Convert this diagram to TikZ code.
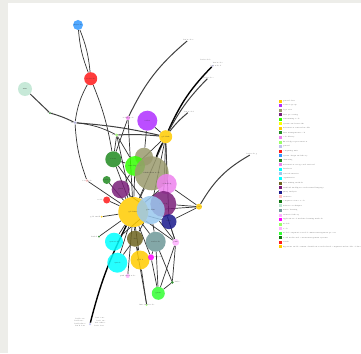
\documentclass[tikz,border=0pt]{standalone}
\usepackage{tikz}
\usetikzlibrary{backgrounds}
\pgfdeclarelayer{edges}
\pgfsetlayers{background,edges,main}

\definecolor{goldc}{HTML}{FFCC00}
\definecolor{violetc}{HTML}{B030FF}
\definecolor{khakic}{HTML}{9A9A6E}
\definecolor{plumc}{HTML}{7A1F7A}
\definecolor{limec}{HTML}{33FF00}
\definecolor{yelc}{HTML}{FFFF00}
\definecolor{forestc}{HTML}{228B22}
\definecolor{orchidc}{HTML}{EE82EE}
\definecolor{lightlimec}{HTML}{99FF66}
\definecolor{lavc}{HTML}{C0C0EE}
\definecolor{redc}{HTML}{FF1A1A}
\definecolor{skyc}{HTML}{3399FF}
\definecolor{cyanc}{HTML}{00FFFF}
\definecolor{paleblue}{HTML}{99C8EE}
\definecolor{olivec}{HTML}{6E6420}
\definecolor{navyc}{HTML}{1A1A8C}
\definecolor{rosec}{HTML}{FFC0C0}
\definecolor{darkgc}{HTML}{117711}
\definecolor{mintc}{HTML}{BEE6D2}
\definecolor{tealc}{HTML}{6E9898}
\definecolor{pinkc}{HTML}{FFB0FF}
\definecolor{magc}{HTML}{FF00FF}
\definecolor{greenc}{HTML}{33FF33}
\definecolor{pagec}{HTML}{EDEDE9}

\begin{document}
\begin{tikzpicture}[x=1pt,y=-1pt,
  vtx/.style={circle,inner sep=0pt,fill opacity=0.85,text opacity=1},
  lnk/.style={black!80,line width=0.7pt},
  heavy/.style={black,line width=1.4pt},
  pale/.style={gray!50!black,line width=1pt},
  tag/.style={font=\fontsize{1.6}{2}\selectfont,text=gray!60!black,inner sep=0.2pt},
  inner/.style={font=\fontsize{1.6}{2}\selectfont,text=black!85,inner sep=0.2pt},
  keymark/.style={minimum size=3pt,inner sep=0pt}]

% page
\begin{scope}[on background layer]
\fill[pagec] (0,0) rectangle (361,353);
\fill[white] (8,3) rectangle (361,353);
\end{scope}

% outer vertices
\node[vtx,fill=skyc,minimum size=10pt,label={[inner]center:sky node}] (vblue) at (78,25) {};
\node[vtx,fill=redc,minimum size=13pt,label={[inner]center:red node}] (vred) at (90.7,78.7) {};
\node[vtx,fill=mintc,minimum size=14pt,label={[inner]center:mint}] (vmint) at (25,89) {};
\node[vtx,fill=darkgc,minimum size=2pt,label={[tag]center:leaf a}] (vdot) at (50,113) {};
\node[vtx,fill=lavc,minimum size=3pt,label={[tag]center:lav node}] (vlav) at (75,122.7) {};
\node[vtx,fill=lightlimec,minimum size=3pt,label={[tag]center:lime node}] (vlime) at (116.7,135) {};
\node[vtx,fill=orchidc,minimum size=4pt,label={[tag]center:orchid node}] (vorchid) at (128,118) {};
\node[vtx,fill=violetc,minimum size=20pt,label={[inner]center:violet}] (vviolet) at (147.3,120.7) {};
\node[vtx,fill=goldc,minimum size=13pt,label={[inner]center:gold hub}] (vgold) at (165.7,136.7) {};

% central cluster
\node[vtx,fill=forestc,minimum size=16pt,label={[inner]center:forest}] (vforest) at (113.3,159.3) {};
\node[vtx,fill=khakic,minimum size=18pt] (vkhakis) at (144,156.7) {};
\node[vtx,fill=limec,minimum size=20pt,label={[inner]center:lime big node}] (vlimebig) at (135,166) {};
\node[vtx,fill=khakic,minimum size=34pt,label={[inner]center:khaki main node}] (vkhaki) at (151.7,173.3) {};
\node[vtx,fill=orchidc,minimum size=20pt,label={[inner]center:orchid big}] (vorch) at (166.7,184) {};
\node[vtx,fill=forestc,minimum size=8pt,label={[inner]center:forest b}] (vfsm) at (106.7,180) {};
\node[vtx,fill=redc,minimum size=7pt,label={[tag]left:red b}] (vredsm) at (106.7,200) {};
\node[vtx,fill=plumc,minimum size=18pt,label={[inner]center:plum}] (vplum) at (120.7,189.3) {};
\node[vtx,fill=plumc,minimum size=26pt,label={[inner]center:plum big}] (vplumr) at (163.3,204) {};
\node[vtx,fill=goldc,minimum size=30pt,label={[inner]center:gold main}] (vyellow) at (133.3,212) {};
\node[vtx,fill=paleblue,minimum size=28pt,label={[inner]center:pale blue}] (vpale) at (150.7,210) {};
\node[vtx,fill=navyc,minimum size=15pt,label={[inner]center:navy}] (vnavy) at (169,221.7) {};
\node[vtx,fill=goldc,minimum size=6pt,label={[tag]center:gold r}] (vgoldr) at (199,206.7) {};
\node[vtx,fill=rosec,minimum size=3pt,label={[tag]center:rose node}] (vrose) at (87,180.7) {};
\node[vtx,fill=goldc,minimum size=2pt,label={[tag]left:gold small}] (vgoldsm) at (101.7,216.7) {};
\node[vtx,fill=darkgc,minimum size=2pt,label={[tag]left:dark b}] (vdark) at (99,236.5) {};
\node[vtx,fill=cyanc,minimum size=18pt,label={[inner]center:cyan node}] (vcyan) at (114,241.7) {};
\node[vtx,fill=olivec,minimum size=16pt,label={[inner]center:olive}] (volive) at (135,238.7) {};
\node[vtx,fill=tealc,minimum size=20pt,label={[inner]center:teal node}] (vteal) at (155.7,241.7) {};
\node[vtx,fill=pinkc,minimum size=7pt,label={[inner]center:pink}] (vpink) at (175.7,242.3) {};
\node[vtx,fill=cyanc,minimum size=20pt,label={[inner]center:cyan b}] (vcyanb) at (117.3,262.7) {};
\node[vtx,fill=goldc,minimum size=19pt,label={[inner]center:gold b}] (vgoldb) at (140,260) {};
\node[vtx,fill=magc,minimum size=6pt,label={[tag]right:magenta}] (vmag) at (151,257.3) {};
\node[vtx,fill=pinkc,minimum size=4pt,label={[tag]center:pink small node}] (vpinksm) at (127.7,276) {};
\node[vtx,fill=greenc,minimum size=13pt,label={[inner]center:green}] (vgreen) at (158.3,293.3) {};
\node[vtx,fill=darkgc,minimum size=3pt,label={[tag]right:dark c}] (vdarkr) at (172.3,282.3) {};
\node[vtx,fill=lightlimec,minimum size=2pt,label={[tag]center:lime small node}] (vlimesm) at (146.7,305) {};
\node[vtx,fill=lavc,minimum size=2.5pt] (vbottom) at (90,324) {};

% far leaves
\node[tag] (lfa) at (188.3,40) {leaf node a};
\node[vtx,fill=lavc,minimum size=2pt] (lfb) at (212.5,66) {};
\node[tag] at (205.5,60) {leaf node b};
\node[tag] at (218,62.5) {leaf node c};
\node[tag] at (216,66) {leaf node d};
\node[tag] (lfc) at (208.3,77.7) {leaf node e};
\node[tag] (lfd) at (189,111.7) {leaf node f};
\node[tag] (lfe) at (251.7,154) {leaf node g};
\node[tag] at (80,318.5) {leaf h one};
\node[tag] at (79,321) {leaf h two};
\node[tag] at (80,323.5) {leaf h three};
\node[tag] at (80,326) {leaf h four};
\node[tag] at (100,318) {leaf i one};
\node[tag] at (101,320.5) {leaf i two};
\node[tag] at (100,323) {leaf i three};
\node[tag] at (99,325.5) {leaf i four};

\begin{pgfonlayer}{edges}
\draw[lnk] (vblue) to[bend left=8] (vred);
\draw[lnk] (vblue) to[bend right=8] (vred);
\draw[lnk] (vred) to[bend right=10] (vlav);
\draw[lnk] (vred) to[bend left=6] (vforest);
\draw[pale] (vmint) -- (vdot);
\draw[pale] (vdot) to[bend left=5] (vlav);
\draw[pale] (vlav) to[bend left=4] (vgold);
\draw[pale] (vlime) to[bend left=4] (vgold);
\draw[lnk] (vlav) to[bend right=8] (vrose);
\draw[lnk] (vlav) to[bend left=10] (vlime);
\draw[pale] (lfa) to[bend right=12] (vorchid);
\draw[heavy] (lfb) to[bend right=10] (vgold);
\draw[heavy] (vgold) to[bend right=5] (vkhaki);
\draw[pale] (lfc) to[bend right=8] (vgold);
\draw[pale] (lfd) to[bend right=6] (vgold);
\draw[pale] (lfe) to[bend right=15] (vgoldr);
\draw[heavy] (vbottom) to[bend left=6] (vyellow);
\draw[lnk] (vgoldr) -- (vorch);
\draw[lnk] (vgoldr) -- (vpale);
\draw[lnk] (vgoldr) -- (vplumr);
\draw[lnk] (vgoldr) -- (vnavy);
\draw[lnk] (vviolet) -- (vgold);
\draw[lnk] (vviolet) -- (vkhakis);
\draw[lnk] (vorchid) -- (vyellow);
\draw[lnk] (vorchid) -- (vforest);
\draw[lnk] (vlime) -- (vforest);
\draw[lnk] (vlime) -- (vyellow);
\draw[lnk] (vlime) -- (vlimebig);
\draw[lnk] (vgold) -- (vlimebig);
\draw[lnk] (vgold) -- (vorch);
\draw[lnk] (vgold) -- (vplumr);
\draw[lnk] (vgold) -- (vyellow);
\draw[lnk] (vgold) -- (vpale);
\draw[lnk] (vgold) -- (vnavy);
\draw[lnk] (vforest) -- (vyellow);
\draw[lnk] (vforest) -- (vlimebig);
\draw[lnk] (vforest) -- (vpale);
\draw[lnk] (vfsm) -- (vyellow);
\draw[lnk] (vredsm) -- (vyellow);
\draw[lnk] (vrose) -- (vyellow);
\draw[lnk] (vgoldsm) -- (vyellow);
\draw[lnk] (vdark) -- (vyellow);
\draw[lnk] (vplum) -- (vyellow);
\draw[lnk] (vplum) -- (vlimebig);
\draw[lnk] (vplum) -- (vpale);
\draw[lnk] (vlimebig) -- (vyellow);
\draw[lnk] (vkhaki) -- (vyellow);
\draw[lnk] (vorch) -- (vyellow);
\draw[lnk] (vyellow) -- (vnavy);
\draw[lnk] (vyellow) -- (vcyan);
\draw[lnk] (vyellow) -- (volive);
\draw[lnk] (vyellow) -- (vteal);
\draw[lnk] (vyellow) -- (vpink);
\draw[lnk] (vyellow) -- (vcyanb);
\draw[lnk] (vyellow) -- (vgoldb);
\draw[lnk] (vyellow) -- (vmag);
\draw[lnk] (vyellow) -- (vpinksm);
\draw[lnk] (vpale) -- (vteal);
\draw[lnk] (vpale) -- (vpink);
\draw[lnk] (vpale) -- (volive);
\draw[lnk] (vpale) -- (vcyan);
\draw[lnk] (vnavy) -- (vpink);
\draw[lnk] (vplumr) -- (vpink);
\draw[lnk] (vteal) -- (vmag);
\draw[lnk] (vteal) -- (vgreen);
\draw[lnk] (vteal) -- (vdarkr);
\draw[lnk] (vpink) -- (vgreen);
\draw[lnk] (vpink) -- (vdarkr);
\draw[lnk] (vdarkr) -- (vgreen);
\draw[lnk] (vmag) -- (vgreen);
\draw[lnk] (vgoldb) -- (vlimesm);
\draw[lnk] (volive) -- (vlimesm);
\draw[lnk] (volive) -- (vgoldb);
\draw[lnk] (volive) -- (vcyanb);
\end{pgfonlayer}

% key
\foreach \c/\t [count=\i] in {
  goldc/general class, violetc/sciences group, khakic/logic area,
  plumc/data processing, limec/text mining tools, yelc/systems and networks,
  goldc/information retrieval models, forestc/data management tools,
  orchidc/code library, lightlimec/knowledge representation,
  lavc/general, redc/computing unit, skyc/system design and theory,
  forestc/clustering, orchidc/information storage and retrieval,
  cyanc/databases, paleblue/text information, cyanc/organization,
  olivec/data mining methods, plumc/artificial intelligence and natural language,
  navyc/query analysis, rosec/statistics, darkgc/computer science tools,
  mintc/inference techniques, tealc/metric learning, pinkc/statistical theory,
  magc/applications of machine learning methods, lightlimec/models, pinkc/tools,
  greenc/model computation and document management process,
  darkgc/social media and content management systems, redc/search,
  goldc/hypertext and document classification and related computational models of data}
{
  \node[keymark,fill=\c] (key\i) at (280,{101+(\i-1)*4.56}) {};
  \node[tag,anchor=west] at (282.6,{101+(\i-1)*4.56}) {\t};
}
\end{tikzpicture}
\end{document}
